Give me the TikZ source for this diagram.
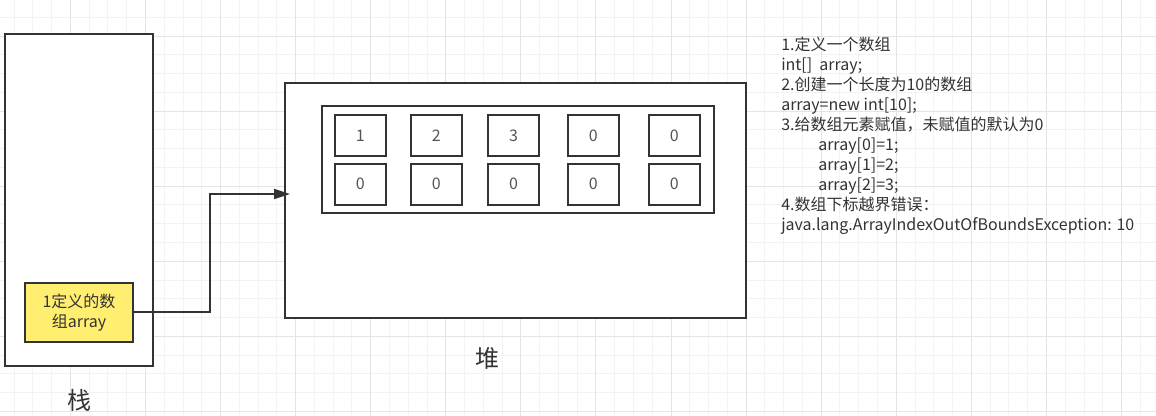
\documentclass[tikz,border=0pt]{standalone}
\usepackage{fontspec}
\setmainfont{Noto Sans CJK SC}
\usetikzlibrary{arrows.meta}
\definecolor{ln}{HTML}{333333}
\definecolor{txtc}{HTML}{333333}
\definecolor{cellt}{HTML}{555555}
\definecolor{yel}{HTML}{FFEE70}
\definecolor{gmin}{HTML}{F3F3F3}
\definecolor{gmaj}{HTML}{E4E4E4}
\begin{document}
\begin{tikzpicture}[x=0.75pt,y=-0.75pt,
  box/.style={draw=ln,line width=1.5pt,fill=white,inner sep=0pt},
  cellbox/.style={box,minimum width=38.5pt,minimum height=31pt,text=cellt,font=\fontsize{12pt}{15pt}\selectfont},
  lbl/.style={text=txtc,font=\fontsize{18pt}{20pt}\selectfont,inner sep=0pt},
  conn/.style={draw=ln,line width=1.5pt},
  gridmin/.style={draw=gmin,line width=0.75pt},
  gridmaj/.style={draw=gmaj,line width=0.75pt}]
\useasboundingbox (0,0) rectangle (1156,416);
\fill[white] (0,0) rectangle (1156,416);
% grid
\foreach \i in {0,...,60} {\draw[gridmin] (14.1+\i*18.77,0) -- (14.1+\i*18.77,416);}
\foreach \i in {0,...,21} {\draw[gridmin] (0,17.3+\i*18.77) -- (1156,17.3+\i*18.77);}
\foreach \i in {0,...,14} {\draw[gridmaj] (70.41+\i*75.08,0) -- (70.41+\i*75.08,416);}
\foreach \i in {0,...,5} {\draw[gridmaj] (0,36.07+\i*75.08) -- (1156,36.07+\i*75.08);}
% stack
\node[box,minimum width=111pt,minimum height=249pt] (stack) at (79,200) {};
\node[box,fill=yel,minimum width=81pt,minimum height=44.25pt,align=center,text=txtc,
  font=\fontsize{12pt}{15pt}\selectfont] (var) at (79,312.5) {1定义的数\\组array};
\node[lbl] (stacklbl) at (79,400) {栈};
% heap
\node[box,minimum width=345.75pt,minimum height=176.25pt] (heap) at (515.5,200.5) {};
\node[box,minimum width=294.2pt,minimum height=80.7pt] (arr) at (517.85,159.5) {};
\node[cellbox] (c1) at (360.3,135.3) {1};
\node[cellbox] (c2) at (436.3,135.3) {2};
\node[cellbox] (c3) at (513.5,135.3) {3};
\node[cellbox] (c4) at (593.3,135.3) {0};
\node[cellbox] (c5) at (674.3,135.3) {0};
\node[cellbox] (c6) at (360.3,184.2) {0};
\node[cellbox] (c7) at (436.3,184.2) {0};
\node[cellbox] (c8) at (513.5,184.2) {0};
\node[cellbox] (c9) at (593.3,184.2) {0};
\node[cellbox] (c10) at (674.3,184.2) {0};
\node[lbl] (heaplbl) at (487,358) {堆};
% connector
\coordinate (bend) at (210,194);
\coordinate (tip) at (290,194);
\draw[conn,-{Triangle[length=12pt,width=7.5pt]}] (var.east) -| (bend) -- (tip);
% notes
\node[anchor=base west,align=left,inner sep=0pt,text=txtc,
  font=\fontsize{12pt}{15pt}\selectfont] (notes) at (781,230.5)
 {1.定义一个数组\\
  int[]~~array;\\
  2.创建一个长度为10的数组\\
  array=new int[10];\\
  3.给数组元素赋值，未赋值的默认为0\\
  \hspace*{27.75pt}array[0]=1;\\
  \hspace*{27.75pt}array[1]=2;\\
  \hspace*{27.75pt}array[2]=3;\\
  4.数组下标越界错误：\\
  java.lang.ArrayIndexOutOfBoundsException: 10};
\end{tikzpicture}
\end{document}
